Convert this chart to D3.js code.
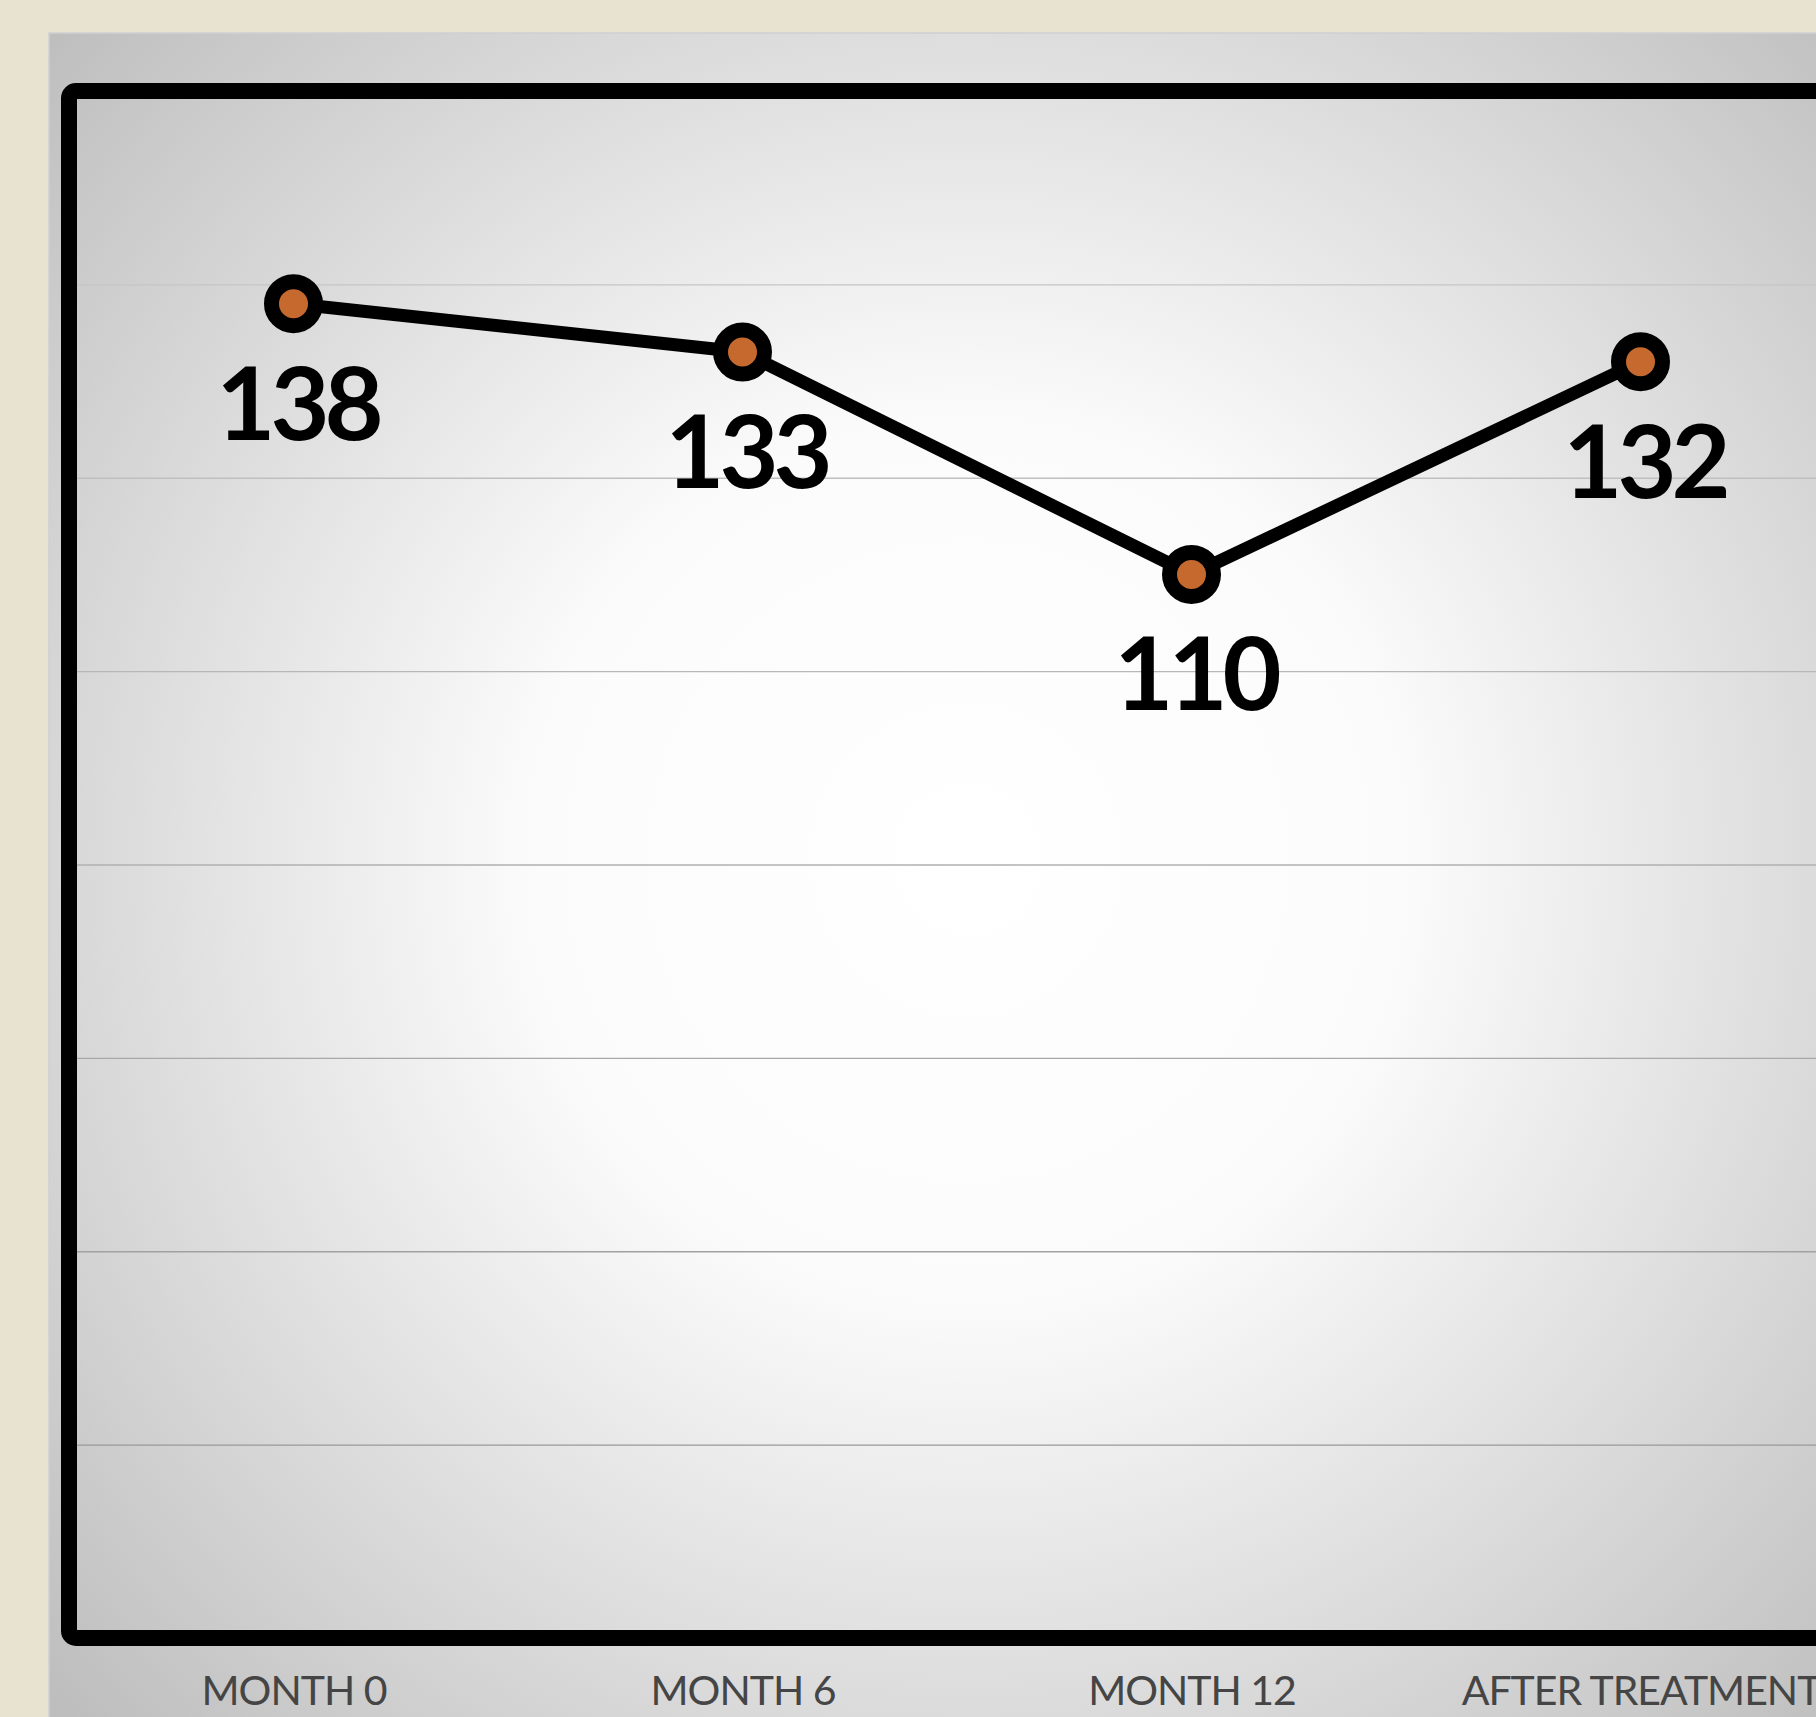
<!DOCTYPE html>
<html>
<head>
<meta charset="utf-8">
<script src="https://cdn.jsdelivr.net/npm/d3@7"></script>
<style>
  body { margin: 0; background: #e8e2d0; overflow: hidden; }
  svg { display: block; }
</style>
</head>
<body>
<div id="chart"></div>
<script>
// chart values
const categories = ["MONTH 0", "MONTH 6", "MONTH 12", "AFTER TREATMENT"];
const values = [138, 133, 110, 132];
const gridValues = [20, 40, 60, 80, 100, 120, 140];

const width = 1816;
const height = 1717;

// plot box (frame centre line)
const plotLeft = 69;
const plotRight = 1865;
const plotTop = 91;
const plotBottom = 1638;

var svg = d3
  .select("#chart")
  .append("svg")
  .attr("width", width)
  .attr("height", height);

// panel gradient
var defs = svg.append("defs");
var grad = defs
  .append("radialGradient")
  .attr("id", "panelGrad")
  .attr("gradientUnits", "userSpaceOnUse")
  .attr("cx", 967)
  .attr("cy", 860)
  .attr("r", 1250);
grad.append("stop").attr("offset", "0%").attr("stop-color", "#ffffff");
grad.append("stop").attr("offset", "35%").attr("stop-color", "#fbfbfb");
grad.append("stop").attr("offset", "100%").attr("stop-color", "#bdbdbd");

svg
  .append("rect")
  .attr("width", width)
  .attr("height", height)
  .attr("fill", "#e8e2d0");

svg
  .append("rect")
  .attr("x", 49)
  .attr("y", 33)
  .attr("width", 1836)
  .attr("height", 1760)
  .attr("fill", "url(#panelGrad)")
  .attr("stroke", "#cfcfcf")
  .attr("stroke-width", 1.5);

// scales
var x = d3
  .scalePoint()
  .domain(categories)
  .range([plotLeft, plotRight])
  .padding(0.5);

var y = d3.scaleLinear().domain([0, 160]).range([plotBottom, plotTop]);

var gridColor = d3
  .scaleLinear()
  .domain([20, 140])
  .range(["#999999", "#c6c6c6"]);

// gridlines
var grid = svg
  .append("g")
  .attr("transform", "translate(" + (plotLeft + 8) + ",0)")
  .call(
    d3
      .axisLeft(y)
      .tickValues(gridValues)
      .tickSize(-(plotRight - plotLeft - 16))
      .tickFormat("")
  );
grid.select(".domain").remove();
grid
  .selectAll(".tick line")
  .attr("stroke", (d) => gridColor(d))
  .attr("stroke-width", 1.4);

// frame
svg
  .append("rect")
  .attr("x", plotLeft)
  .attr("y", plotTop)
  .attr("width", plotRight - plotLeft)
  .attr("height", plotBottom - plotTop)
  .attr("rx", 7)
  .attr("fill", "none")
  .attr("stroke", "#000")
  .attr("stroke-width", 16);

// x axis labels
var xAxis = svg
  .append("g")
  .attr("transform", "translate(0,1705)")
  .call(d3.axisBottom(x).tickSize(0));
xAxis.select(".domain").remove();
xAxis
  .selectAll(".tick text")
  .attr("y", 0)
  .attr("dy", null)
  .attr("fill", "#454545")
  .style("font-family", "Lato, 'Open Sans', sans-serif")
  .style("font-size", "41px")
  .style("letter-spacing", "-1px");

// line
var data = categories.map((c, i) => ({ cat: c, val: values[i] }));

var line = d3
  .line()
  .x((d) => x(d.cat))
  .y((d) => y(d.val));

svg
  .append("path")
  .datum(data)
  .attr("fill", "none")
  .attr("stroke", "#000")
  .attr("stroke-width", 13)
  .attr("stroke-linejoin", "round")
  .attr("d", line);

// markers
svg
  .selectAll(".dot")
  .data(data)
  .enter()
  .append("circle")
  .attr("class", "dot")
  .attr("cx", (d) => x(d.cat))
  .attr("cy", (d) => y(d.val))
  .attr("r", 22)
  .attr("fill", "#c6692f")
  .attr("stroke", "#000")
  .attr("stroke-width", 15);

// value labels
svg
  .selectAll(".val")
  .data(data)
  .enter()
  .append("text")
  .attr("class", "val")
  .attr("x", (d) => x(d.cat) + 4)
  .attr("y", (d) => y(d.val) + 136)
  .attr("text-anchor", "middle")
  .style("font-family", "Lato, 'Open Sans', sans-serif")
  .style("font-weight", "bold")
  .style("font-size", "102px")
  .style("letter-spacing", "-5px")
  .attr("fill", "#000")
  .text((d) => d.val);
</script>
</body>
</html>
